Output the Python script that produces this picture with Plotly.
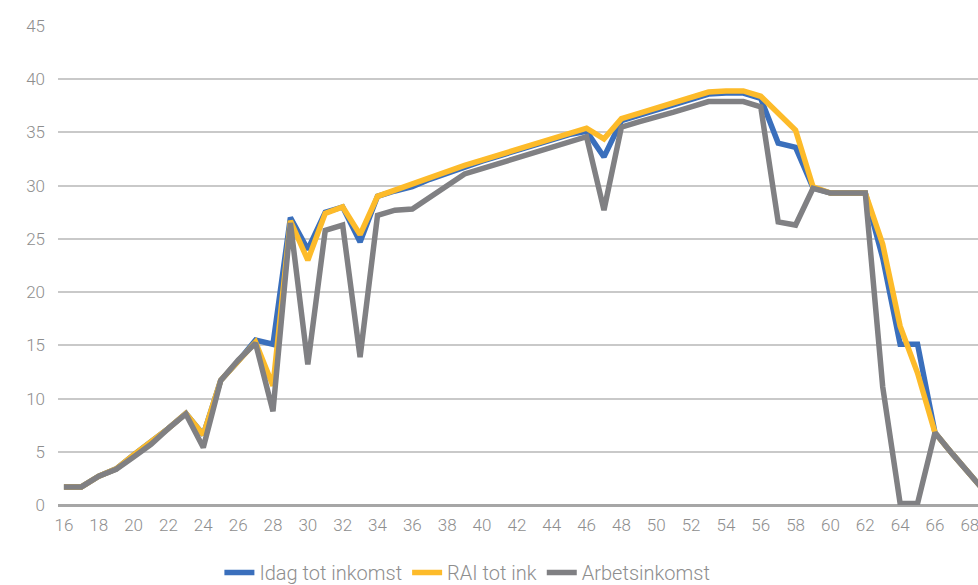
import plotly.graph_objects as go

# Age (x-axis categories)
ages = list(range(16, 70))

idag_tot_inkomst = [
    1.7, 1.7, 2.7, 3.4, 4.7, 5.9, 7.2, 8.6, 6.6, 11.7,
    13.5, 15.5, 15.1, 27.0, 24.0, 27.5, 28.0, 24.7, 29.0, 29.5,
    29.9, 30.6, 31.2, 31.8, 32.3, 32.8, 33.3, 33.8, 34.3, 34.8,
    35.1, 32.7, 36.1, 36.6, 37.1, 37.6, 38.1, 38.6, 38.7, 38.7,
    38.2, 34.0, 33.6, 29.8, 29.3, 29.3, 29.3, 23.2, 15.1, 15.1,
    6.8, 4.8, 2.8, 1.0,
]

rai_tot_ink = [
    1.7, 1.7, 2.7, 3.4, 4.7, 5.9, 7.2, 8.6, 6.6, 11.7,
    13.5, 15.3, 11.2, 26.7, 23.0, 27.4, 28.0, 25.4, 29.0, 29.6,
    30.1, 30.7, 31.3, 31.9, 32.4, 32.9, 33.4, 33.9, 34.4, 34.9,
    35.4, 34.4, 36.3, 36.8, 37.3, 37.8, 38.3, 38.8, 38.9, 38.9,
    38.4, 36.8, 35.2, 29.9, 29.3, 29.3, 29.3, 24.5, 16.8, 12.4,
    6.8, 4.8, 2.8, 1.0,
]

arbetsinkomst = [
    1.7, 1.7, 2.7, 3.35, 4.5, 5.7, 7.2, 8.55, 5.4, 11.7,
    13.6, 15.2, 8.8, 26.5, 13.2, 25.8, 26.3, 13.9, 27.2, 27.7,
    27.8, 28.9, 30.0, 31.1, 31.6, 32.1, 32.6, 33.1, 33.6, 34.1,
    34.6, 27.7, 35.5, 36.0, 36.4, 36.9, 37.4, 37.9, 37.9, 37.9,
    37.4, 26.6, 26.3, 29.75, 29.3, 29.3, 29.3, 11.1, 0.15, 0.15,
    6.8, 4.8, 2.8, 1.0,
]

series = [
    ("Idag tot inkomst", idag_tot_inkomst, "#3A6FBC"),
    ("RAI tot ink", rai_tot_ink, "#FDBB2A"),
    ("Arbetsinkomst", arbetsinkomst, "#808083"),
]

fig = go.Figure()
for name, values, color in series:
    fig.add_trace(go.Scatter(
        x=ages, y=values, name=name, mode="lines",
        line=dict(color=color, width=5.5, shape="linear"),
    ))

axis_font = dict(family="Roboto", size=17, color="#8E8E8E", weight=300)

fig.update_layout(
    width=978, height=585,
    margin=dict(l=58, r=0, t=26, b=80, autoexpand=False),
    paper_bgcolor="white", plot_bgcolor="white",
    showlegend=True,
    legend=dict(
        orientation="h", x=0.445, xanchor="center", y=-0.10, yanchor="top",
        font=dict(family="Roboto", size=20, color="#8E8E8E", weight=300),
        traceorder="normal", itemwidth=30,
    ),
    xaxis=dict(
        range=[15.66, 68.47], tick0=16, dtick=2,
        showgrid=False, zeroline=False, showline=False,
        tickfont=axis_font, ticks="", ticklabelstandoff=8,
        ticklabeloverflow="allow",
    ),
    yaxis=dict(
        range=[0, 45], dtick=5, tick0=0,
        showgrid=True, gridcolor="#C9C9C9", gridwidth=1.5,
        zeroline=True, zerolinecolor="#A6A6A6", zerolinewidth=2.5,
        showline=False, tickfont=axis_font, ticks="", ticklabelstandoff=12,
    ),
)

fig.write_html("out.html")
